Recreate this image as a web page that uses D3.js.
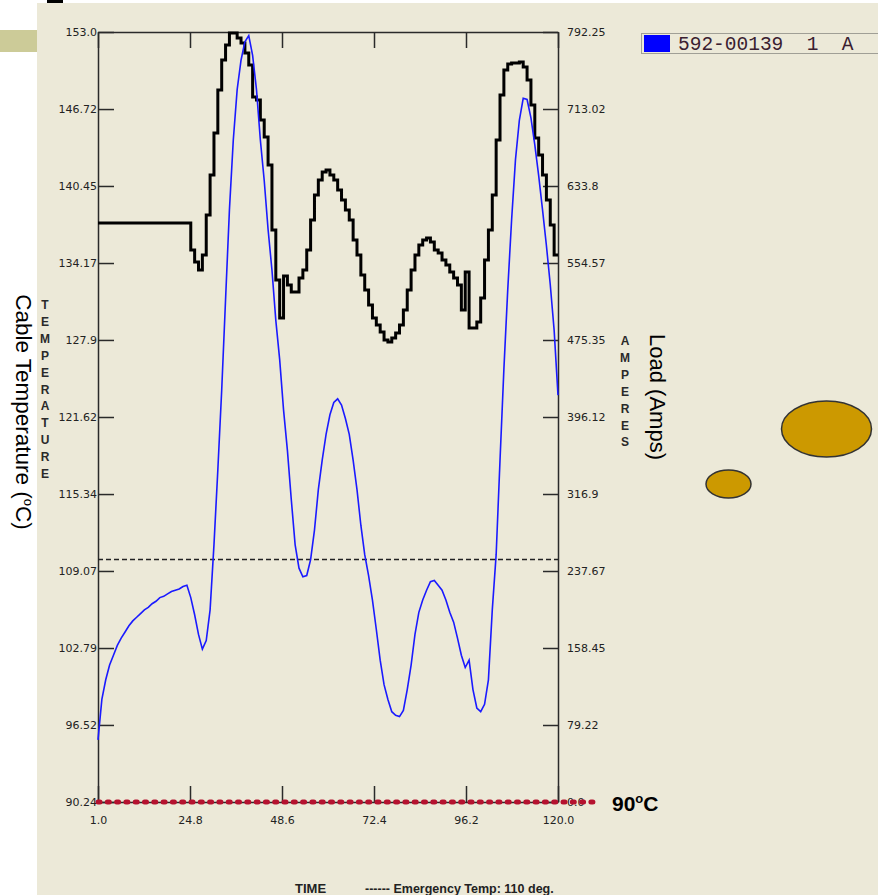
<!DOCTYPE html>
<html>
<head>
<meta charset="utf-8">
<style>
  body { margin: 0; background: #fff; }
  svg { display: block; }
  .tick text { font-family: "DejaVu Sans", sans-serif; font-size: 11px; fill: #222; }
  .axis path, .axis line { stroke: #2a2a2a; stroke-width: 1.5px; }
  .load { fill: none; stroke: #000; stroke-width: 3px; }
  .temp { fill: none; stroke: #1a1aff; stroke-width: 1.6px; }
</style>
</head>
<body>
<div id="chart"></div>
<script src="https://d3js.org/d3.v7.min.js"></script>
<script>

// hours 1..120
var hours = d3.range(1, 121);

// cable temperature (deg C), left axis
var temperature = [
  95.3, 98.6, 100.2, 101.4, 102.2, 103.0, 103.6, 104.1, 104.6, 105.0,
  105.3, 105.6, 105.9, 106.1, 106.4, 106.6, 106.9, 107.0, 107.2, 107.4,
  107.5, 107.6, 107.8, 107.9, 106.9, 105.5, 103.9, 102.7, 103.4, 105.9,
  111.2, 117.3, 123.8, 131.2, 138.5, 144.2, 148.3, 150.7, 152.2, 152.7,
  151.1, 148.3, 144.2, 140.9, 136.9, 133.6, 129.5, 126.3, 122.2, 118.9,
  114.9, 111.2, 109.3, 108.6, 108.7, 110.0, 112.4, 115.7, 118.1, 120.2,
  121.8, 122.8, 123.1, 122.6, 121.5, 120.2, 118.1, 115.7, 112.8, 110.4,
  108.7, 106.7, 104.3, 101.8, 99.8, 98.6, 97.6, 97.3, 97.2, 97.7,
  99.4, 101.4, 103.9, 105.7, 106.7, 107.5, 108.2, 108.3, 107.9, 107.5,
  106.7, 105.7, 104.9, 103.6, 102.2, 101.2, 101.8, 99.4, 97.9, 97.6,
  98.2, 100.2, 105.9, 110.4, 118.1, 125.5, 132.0, 137.7, 142.6, 145.8,
  147.6, 147.5, 146.0, 143.8, 141.3, 138.5, 135.6, 132.4, 128.7, 123.4
];

// load (amps), right axis
var load = [
  595.7, 595.7, 595.7, 595.7, 595.7, 595.7, 595.7, 595.7, 595.7, 595.7,
  595.7, 595.7, 595.7, 595.7, 595.7, 595.7, 595.7, 595.7, 595.7, 595.7,
  595.7, 595.7, 595.7, 595.7, 568.0, 555.6, 547.4, 562.8, 604.0, 645.1,
  688.3, 732.6, 763.4, 778.9, 791.2, 791.2, 786.1, 780.9, 770.6, 758.3,
  725.4, 722.3, 701.7, 684.2, 655.4, 588.5, 537.1, 498.0, 541.2, 531.9,
  524.7, 524.7, 539.1, 547.4, 568.0, 598.8, 624.5, 640.0, 648.2, 650.3,
  645.1, 640.0, 629.7, 619.4, 609.1, 598.8, 578.2, 562.8, 542.2, 526.8,
  511.4, 498.0, 490.8, 483.6, 475.4, 473.3, 477.4, 482.6, 490.8, 506.2,
  526.8, 547.4, 562.8, 573.1, 578.2, 580.3, 576.2, 568.0, 564.9, 557.7,
  552.5, 545.3, 539.1, 531.9, 506.2, 545.3, 487.7, 487.7, 493.9, 518.6,
  557.7, 588.5, 624.5, 681.1, 727.4, 753.2, 759.3, 760.4, 760.4, 761.4,
  756.2, 742.9, 717.1, 683.2, 665.7, 645.1, 619.4, 593.7, 562.8, 562.8
];

var tempTicks = ["90.24", "96.52", "102.79", "109.07", "115.34", "121.62", "127.9", "134.17", "140.45", "146.72", "153.0"];
var ampTicks = ["0.0", "79.22", "158.45", "237.67", "316.9", "396.12", "475.35", "554.57", "633.8", "713.02", "792.25"];
var timeTicks = ["1.0", "24.8", "48.6", "72.4", "96.2", "120.0"];
var emergencyTemp = 110;
var seriesName = "592-00139  1  A";

var margin = {top: 32, left: 98},
    width = 460,
    height = 770;

var svg = d3.select("#chart").append("svg")
    .attr("width", 878)
    .attr("height", 895);

// background panel and window bits
svg.append("rect").attr("x", 37).attr("y", 3).attr("width", 841).attr("height", 892).attr("fill", "#ECE9D8");
svg.append("rect").attr("x", 47).attr("y", 0).attr("width", 16).attr("height", 3).attr("fill", "#000");
svg.append("rect").attr("x", 0).attr("y", 30).attr("width", 37).attr("height", 22).attr("fill", "#CCCB98");

var g = svg.append("g")
    .attr("transform", "translate(" + margin.left + "," + margin.top + ")");

var x = d3.scaleLinear().domain([1, 120]).range([0, width]);
var yT = d3.scaleLinear().domain([90.24, 153.0]).range([height, 0]);
var yA = d3.scaleLinear().domain([0, 792.25]).range([height, 0]);

// axes
g.append("g").attr("class", "axis")
    .call(d3.axisLeft(yT).tickValues(tempTicks.map(Number))
      .tickFormat(function(d, i) { return tempTicks[i]; })
      .tickSizeInner(-16).tickSizeOuter(0).tickPadding(1));

g.append("g").attr("class", "axis")
    .attr("transform", "translate(" + width + ",0)")
    .call(d3.axisRight(yA).tickValues(ampTicks.map(Number))
      .tickFormat(function(d, i) { return ampTicks[i]; })
      .tickSizeInner(-15).tickSizeOuter(0).tickPadding(9));

g.append("g").attr("class", "axis")
    .attr("transform", "translate(0," + height + ")")
    .call(d3.axisBottom(x).tickValues(timeTicks.map(Number))
      .tickFormat(function(d, i) { return timeTicks[i]; })
      .tickSizeInner(-16).tickSizeOuter(0).tickPadding(14));

g.append("g").attr("class", "axis")
    .call(d3.axisBottom(x).tickValues(timeTicks.map(Number))
      .tickFormat("").tickSizeInner(16).tickSizeOuter(0));

// emergency temperature line
g.append("line")
    .attr("x1", 0).attr("x2", width)
    .attr("y1", yT(emergencyTemp)).attr("y2", yT(emergencyTemp))
    .attr("stroke", "#222").attr("stroke-width", 1.5)
    .attr("stroke-dasharray", "5,3");

// load line (stepped)
var loadLine = d3.line()
    .curve(d3.curveStepAfter)
    .x(function(d, i) { return x(hours[i]); })
    .y(function(d) { return yA(d); });

g.append("path").datum(load).attr("class", "load").attr("d", loadLine);

// temperature line
var tempLine = d3.line()
    .x(function(d, i) { return x(hours[i]); })
    .y(function(d) { return yT(d); });

g.append("path").datum(temperature).attr("class", "temp").attr("d", tempLine);

// 90 degree marker line
g.append("line")
    .attr("x1", 0).attr("x2", 496)
    .attr("y1", yT(90.24)).attr("y2", yT(90.24))
    .attr("stroke", "#B5122F").attr("stroke-width", 5)
    .attr("stroke-linecap", "round")
    .attr("stroke-dasharray", "2,7.3");

svg.append("text")
    .attr("x", 612).attr("y", 811)
    .attr("font-family", "Liberation Sans, Arial, sans-serif")
    .attr("font-size", 21).attr("font-weight", "bold").attr("fill", "#000")
    .call(function(t) {
      t.append("tspan").text("90");
      t.append("tspan").attr("font-size", 13).attr("dy", -8).text("o");
      t.append("tspan").attr("dy", 8).text("C");
    });

// stacked axis letters
var stacked = function(word, cx, y0) {
  svg.append("g").selectAll("text")
    .data(word.split(""))
    .join("text")
      .attr("x", cx)
      .attr("y", function(d, i) { return y0 + i * 16.9; })
      .attr("text-anchor", "middle")
      .attr("font-family", "Liberation Sans, Arial, sans-serif")
      .attr("font-size", 12).attr("font-weight", "bold")
      .attr("fill", "#2a2a2a")
      .text(function(d) { return d; });
};
stacked("TEMPERATURE", 45, 309);
stacked("AMPERES", 625, 345);

// rotated titles
svg.append("text")
    .attr("transform", "translate(16,412) rotate(90)")
    .attr("text-anchor", "middle")
    .attr("font-family", "Liberation Sans, Arial, sans-serif")
    .attr("font-size", 22.5).attr("fill", "#000")
    .call(function(t) {
      t.append("tspan").text("Cable Temperature (");
      t.append("tspan").attr("font-size", 13).attr("dy", -8).text("o");
      t.append("tspan").attr("dy", 8).text("C)");
    });

svg.append("text")
    .attr("transform", "translate(650,397) rotate(90)")
    .attr("text-anchor", "middle")
    .attr("font-family", "Liberation Sans, Arial, sans-serif")
    .attr("font-size", 22).attr("fill", "#000")
    .text("Load (Amps)");

// bottom captions
svg.append("text")
    .attr("x", 295).attr("y", 893)
    .attr("font-family", "Liberation Sans, Arial, sans-serif")
    .attr("font-size", 13).attr("font-weight", "bold").attr("fill", "#222")
    .text("TIME");
svg.append("text")
    .attr("x", 365).attr("y", 893)
    .attr("font-family", "Liberation Sans, Arial, sans-serif")
    .attr("font-size", 12.5).attr("font-weight", "bold").attr("fill", "#222")
    .text("------ Emergency Temp: " + emergencyTemp + " deg.");

// legend
svg.append("rect")
    .attr("x", 641.5).attr("y", 33.5).attr("width", 260).attr("height", 20)
    .attr("fill", "none").attr("stroke", "#555").attr("stroke-dasharray", "1,1");
svg.append("rect")
    .attr("x", 644).attr("y", 35).attr("width", 26).attr("height", 17)
    .attr("fill", "#0000FF");
svg.append("text")
    .attr("x", 678).attr("y", 50)
    .attr("font-family", "Liberation Mono, Courier New, monospace")
    .attr("font-size", 19.5).attr("fill", "#3a2030")
    .style("white-space", "pre")
    .text(seriesName);

// decorative ellipses
svg.append("ellipse")
    .attr("cx", 826.5).attr("cy", 429).attr("rx", 45).attr("ry", 28)
    .attr("fill", "#CC9900").attr("stroke", "#333").attr("stroke-width", 1.5);
svg.append("ellipse")
    .attr("cx", 728.5).attr("cy", 484).attr("rx", 22.5).attr("ry", 14)
    .attr("fill", "#CC9900").attr("stroke", "#333").attr("stroke-width", 1.5);

</script>
</body>
</html>
